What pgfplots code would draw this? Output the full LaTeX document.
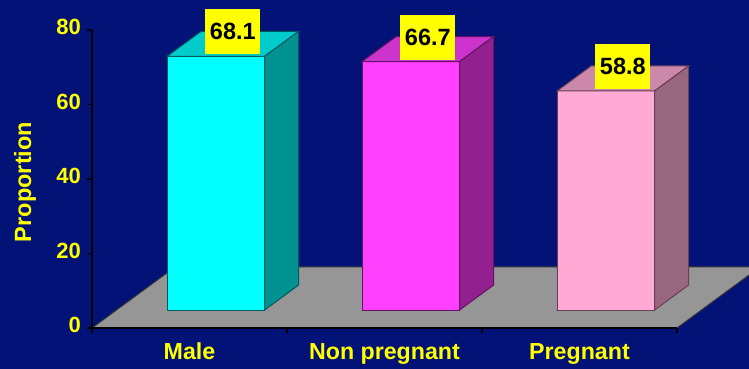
\documentclass[border=0pt]{standalone}
\usepackage{pgfplots}
\usepackage{pgfplotstable}
\pgfplotsset{compat=1.18}
\usepackage{fontspec}
\setmainfont{Liberation Sans}

\definecolor{bgnavy}{RGB}{2,18,118}
\definecolor{floorgray}{RGB}{150,150,150}
\definecolor{labyellow}{RGB}{255,255,0}
% face colours of the three bars: front, top, side, outline
\definecolor{front0}{RGB}{0,255,255}
\definecolor{top0}{RGB}{0,204,204}
\definecolor{side0}{RGB}{0,146,144}
\definecolor{edge0}{RGB}{0,90,90}
\definecolor{front1}{RGB}{255,64,255}
\definecolor{top1}{RGB}{204,51,204}
\definecolor{side1}{RGB}{146,32,142}
\definecolor{edge1}{RGB}{100,20,100}
\definecolor{front2}{RGB}{255,170,213}
\definecolor{top2}{RGB}{204,136,170}
\definecolor{side2}{RGB}{153,102,127}
\definecolor{edge2}{RGB}{100,65,85}

\pgfplotstableread{
group value
Male 68.1
NonPregnant 66.7
Pregnant 58.8
}\datatable

% oblique depth of the bars (axis units)
\def\zfront{4.83}   % lift of the front face above the floor edge
\def\dx{0.1745}
\def\dy{6.71}
\def\bw{0.5}
\def\bx{0.385}

\begin{document}
\begin{tikzpicture}[x=0.5pt,y=0.5pt]
\clip (0,0) rectangle (749,369);
\fill[bgnavy] (0,0) rectangle (749,369);
\begin{axis}[
  at={(46pt,20.5pt)}, anchor=south west,
  scale only axis, width=292.5pt, height=149pt,
  xmin=0, xmax=3, ymin=0, ymax=80,
  clip=false, axis on top,
  axis x line=bottom, axis y line=left,
  axis line style={-, black, line width=1pt},
  tick align=outside, major tick length=2.5pt,
  tick style={black, line width=0.8pt},
  xtick={0,1,2,3}, xticklabels={},
  extra x ticks={0.5,1.5,2.5},
  extra x tick labels={Male, Non pregnant, Pregnant},
  extra x tick style={major tick length=0pt},
  typeset ticklabels with strut,
  xticklabel style={font=\bfseries\fontsize{11.6}{13}\selectfont, text=labyellow, yshift=-3pt},
  ytick={0,20,40,60,80},
  yticklabel style={font=\bfseries\fontsize{11}{12}\selectfont, text=labyellow, xshift=0.5pt},
  /pgf/number format/assume math mode=true,
  ylabel={Proportion},
  every axis y label/.style={at={(axis description cs:-0.1145,0.49)}, rotate=90, anchor=center,
    font=\bfseries\fontsize{11.75}{13}\selectfont, text=labyellow},
]
% grey floor plane
\addplot[fill=floorgray, draw=black!80, line width=0.5pt]
  coordinates {(0,0) (3,0) (3.4256,16.38) (0.4256,16.38)} --cycle;

% the three boxes: front, top and side faces from each value
\pgfplotsinvokeforeach{0,1,2}{
  \pgfplotstablegetelem{#1}{value}\of\datatable
  \pgfmathsetmacro\xa{#1+\bx}
  \pgfmathsetmacro\xb{#1+\bx+\bw}
  \pgfmathsetmacro\xc{#1+\bx+\dx}
  \pgfmathsetmacro\xd{#1+\bx+\bw+\dx}
  \pgfmathsetmacro\ya{\zfront}
  \pgfmathsetmacro\yb{\zfront+\pgfplotsretval}
  \pgfmathsetmacro\yc{\zfront+\dy}
  \pgfmathsetmacro\yd{\zfront+\pgfplotsretval+\dy}
  \edef\drawbox{%
    \noexpand\addplot[fill=front#1, draw=edge#1, line width=0.5pt]
      coordinates {(\xa,\ya) (\xb,\ya) (\xb,\yb) (\xa,\yb)} --cycle;
    \noexpand\addplot[fill=top#1, draw=edge#1, line width=0.5pt]
      coordinates {(\xa,\yb) (\xb,\yb) (\xd,\yd) (\xc,\yd)} --cycle;
    \noexpand\addplot[fill=side#1, draw=edge#1, line width=0.5pt]
      coordinates {(\xb,\ya) (\xd,\yc) (\xd,\yd) (\xb,\yb)} --cycle;
  }
  \drawbox
}

% value labels above the top faces
\addplot[draw=none, mark=none,
  point meta=explicit,
  nodes near coords={\pgfmathprintnumber[fixed,fixed zerofill,precision=1]{\pgfplotspointmeta}},
  every node near coord/.append style={anchor=center, fill=labyellow, text=black,
    minimum width=27.5pt, minimum height=22.5pt, inner sep=0pt,
    font=\bfseries\fontsize{11.75}{13}\selectfont},
] table[x expr={\coordindex+0.385+0.25+0.0873}, y expr={\thisrow{value}+4.83+3.355+3.22}, meta=value] {\datatable};
\end{axis}
\end{tikzpicture}
\end{document}
